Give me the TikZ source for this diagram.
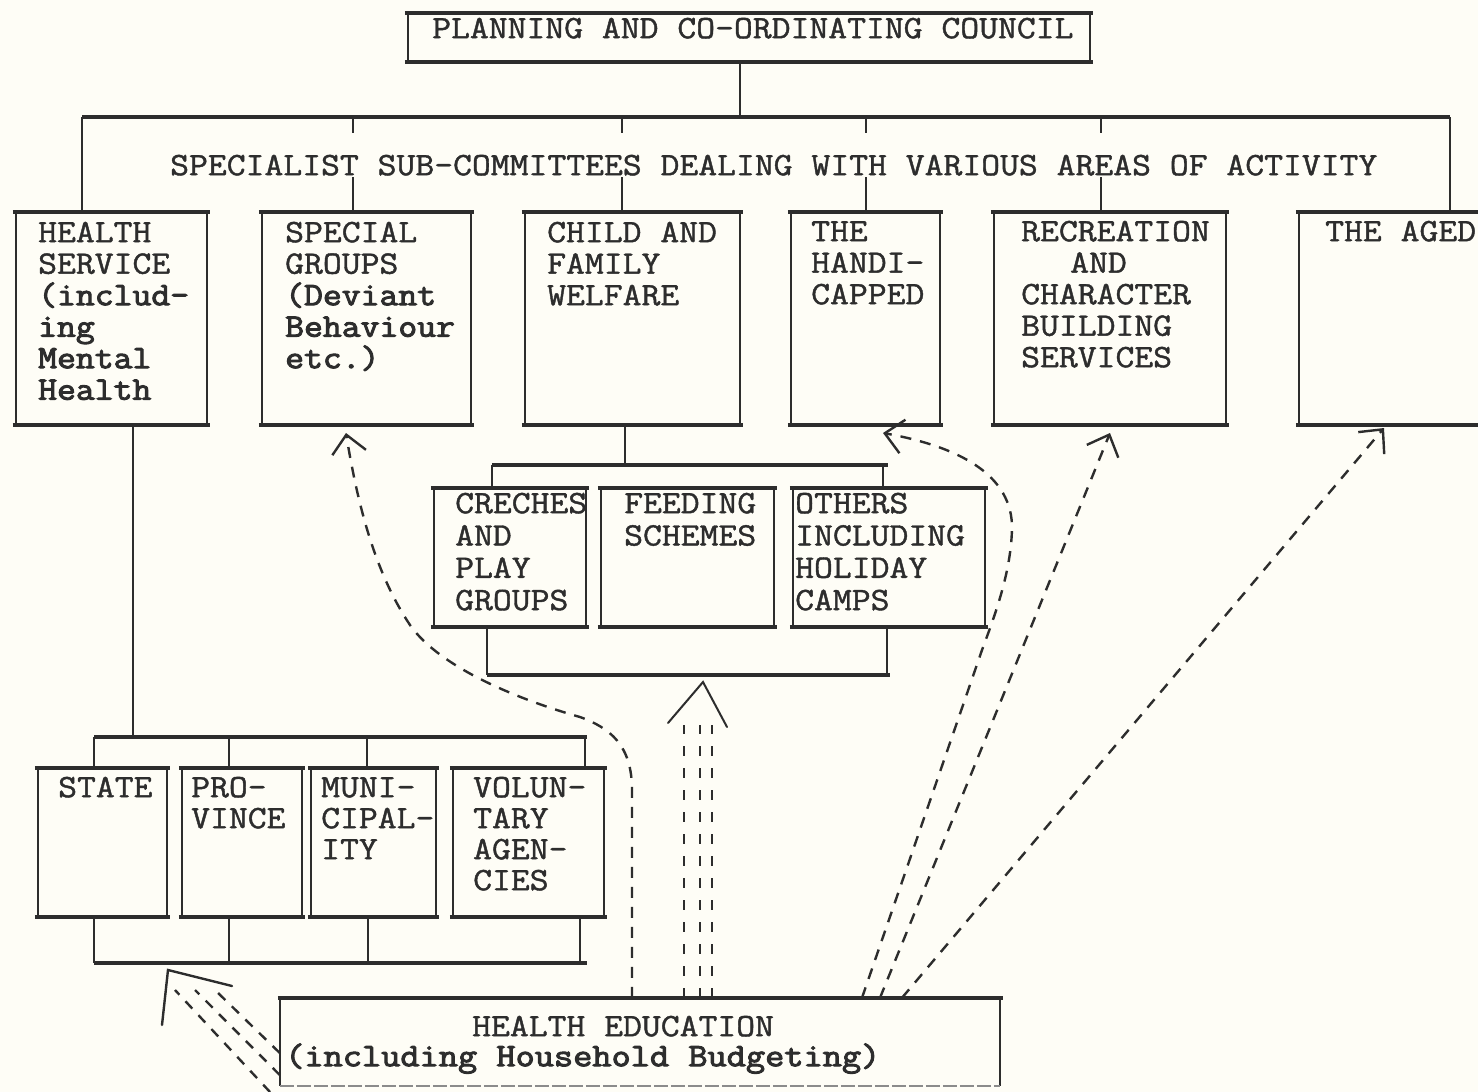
\documentclass[tikz,border=0pt]{standalone}
\usepackage{fontspec}
\newfontfamily\twfont[FakeStretch=1.12, AutoFakeBold=1.3]{Latin Modern Mono}
\newfontfamily\twbold[FakeStretch=1.12, AutoFakeBold=3]{Latin Modern Mono}
\newfontfamily\twheb[FakeStretch=1.14, AutoFakeBold=3]{Latin Modern Mono}
\usetikzlibrary{arrows.meta}
\definecolor{ink}{RGB}{45,45,45}
\definecolor{paper}{RGB}{254,253,246}
\newcommand\fl{\rule{0pt}{26pt}}
\newcommand\lc[1]{{\twbold\bfseries #1}}
\newcommand\mkbox[5]{%
  \node[frame, minimum width={#4-#2}, minimum height={#5-#3}] (#1) at ({(#2+#4)/2},{(#3+#5)/2}) {};%
  \draw[side] (#1.north west) -- (#1.south west) (#1.north east) -- (#1.south east);%
  \draw[edge] ([xshift=-3pt]#1.north west) -- ([xshift=3pt]#1.north east)
              ([xshift=-3pt]#1.south west) -- ([xshift=3pt]#1.south east);}
\tikzset{
  frame/.style={rectangle, inner sep=0pt, draw=none},
  edge/.style={ink, line width=3.6pt},
  side/.style={ink, line width=2pt},
  bar/.style={ink, line width=3.6pt},
  conn/.style={ink, line width=2pt},
  dsh/.style={ink, line width=2.4pt, dash pattern=on 11pt off 9pt},
  tip/.style={-{Straight Barb[length=18pt,width=34pt]}},
  barb/.style={ink, line width=2.4pt, line cap=round},
  txt/.style={anchor=north west, inner sep=0pt, align=left, text=ink},
  fA/.style={font=\fontsize{32.7}{31.5}\selectfont\twfont\bfseries},
  fS/.style={font=\fontsize{32.7}{32.3}\selectfont\twfont\bfseries},
  fT/.style={font=\fontsize{32.7}{31}\selectfont\twfont\bfseries},
  fH/.style={font=\fontsize{32.7}{30}\selectfont\twfont\bfseries},
}
\begin{document}
\begin{tikzpicture}[x=1pt,y=-1pt]
\fill[paper] (0,0) rectangle (1478,1092);
\useasboundingbox (0,0) rectangle (1478,1092);

% ---------- boxes ----------
\mkbox{C}{408}{13}{1090}{62}
\mkbox{hs}{16}{212}{207}{425}
\mkbox{sg}{262}{212}{471}{425}
\mkbox{cf}{525}{212}{740}{425}
\mkbox{hc}{791}{212}{940}{425}
\mkbox{rc}{994}{212}{1226}{425}
\mkbox{ag}{1299}{212}{1530}{425}
\mkbox{cr}{434}{488}{586}{627}
\mkbox{fd}{601}{488}{774}{627}
\mkbox{ot}{793}{488}{985}{627}
\mkbox{st}{38}{768}{167}{917}
\mkbox{pv}{182}{768}{302}{917}
\mkbox{mu}{311}{768}{436}{917}
\mkbox{vo}{453}{768}{604}{917}
\node[frame, minimum width=720, minimum height=88] (he) at (640,1042) {};
\draw[side] (he.north west) -- (he.south west) (he.north east) -- (he.south east);
\draw[edge] ([xshift=-2pt]he.north west) -- ([xshift=3pt]he.north east);
\draw[ink!55, line width=1.6pt, dash pattern=on 14pt off 3pt] (he.south west) -- (he.south east);

% ---------- texts ----------
\node[txt,fA] (Ct) at (432,12) {\fl PLANNING AND CO-ORDINATING COUNCIL};
\node[txt,fA] (sub) at (170,149) {\fl SPECIALIST SUB-COMMITTEES DEALING WITH VARIOUS AREAS OF ACTIVITY};
\node[txt,fA] (hsT) at (38,216) {\fl HEALTH\\SERVICE\\\lc{(includ-}\\\lc{ing}\\\lc{Mental}\\\lc{Health}};
\node[txt,fA] (sgT) at (285,216) {\fl SPECIAL\\GROUPS\\\lc{(Deviant}\\\lc{Behaviour}\\\lc{etc.)}};
\node[txt,fA] (cfT) at (547,216) {\fl CHILD AND\\FAMILY\\WELFARE};
\node[txt,fA] (hcT) at (811,215) {\fl THE\\HANDI-\\CAPPED};
\node[txt,fA] (rcT) at (1021,215) {\fl RECREATION\\\hspace*{49pt}AND\\CHARACTER\\BUILDING\\SERVICES};
\node[txt,fA] (agT) at (1325,215) {\fl THE AGED};
\node[txt,fS] (crT) at (455,487) {\fl CRECHES\\AND\\PLAY\\GROUPS};
\node[txt,fS] (fdT) at (624,487) {\fl FEEDING\\SCHEMES};
\node[txt,fS] (otT) at (795,487) {\fl OTHERS\\INCLUDING\\HOLIDAY\\CAMPS};
\node[txt,fT] (stT) at (58,771) {\fl STATE};
\node[txt,fT] (pvT) at (191,771) {\fl PRO-\\VINCE};
\node[txt,fT] (muT) at (321,771) {\fl MUNI-\\CIPAL-\\ITY};
\node[txt,fT] (voT) at (473,771) {\fl VOLUN-\\TARY\\AGEN-\\CIES};
\node[txt,fH] (heT) at (285,1010) {\fl\hspace*{187pt}HEALTH EDUCATION\\{\twheb\bfseries (including Household Budgeting)}};

% ---------- solid connectors ----------
\coordinate (bL) at (82,117);  \coordinate (bR) at (1450,117);
\coordinate (b0) at (740,117);
\draw[bar] (bL) -- (bR);
\draw[conn] (C.south -| b0) -- (b0);
\draw[conn] (bL) -- (hs.north -| bL);
\draw[conn] (bR) -- (ag.north -| bR);
\foreach \x/\n in {353/sg,622/cf,866/hc,1101/rc}{
  \draw[conn] (\x,117) -- (\x,133);
  \draw[conn] (\x,177) -- (\n.north -| {(\x,0)});
}
% health -> state group
\coordinate (sbL) at (94,737); \coordinate (sbR) at (587,737);
\draw[conn] (hs.south -| {(133,0)}) -- (133,737);
\draw[bar] (sbL) -- (sbR);
\draw[conn] (94,737) -- (st.north -| {(94,0)});
\draw[conn] (229,737) -- (pv.north -| {(229,0)});
\draw[conn] (367,737) -- (mu.north -| {(367,0)});
\draw[conn] (585,737) -- (vo.north -| {(585,0)});
\coordinate (lbL) at (94,963); \coordinate (lbR) at (587,963);
\draw[bar] (lbL) -- (lbR);
\draw[conn] (st.south -| {(94,0)}) -- (94,963);
\draw[conn] (pv.south -| {(229,0)}) -- (229,963);
\draw[conn] (mu.south -| {(368,0)}) -- (368,963);
\draw[conn] (vo.south -| {(580,0)}) -- (580,963);
% child -> sub group
\draw[conn] (cf.south -| {(625,0)}) -- (625,465);
\draw[bar] (492,465) -- (888,465);
\draw[conn] (492,465) -- (cr.north -| {(492,0)});
\draw[conn] (883,465) -- (ot.north -| {(883,0)});
\coordinate (cbL) at (487,675); \coordinate (cbR) at (890,675);
\draw[bar] (cbL) -- (cbR);
\draw[conn] (cr.south -| {(487,0)}) -- (487,675);
\draw[conn] (ot.south -| {(887,0)}) -- (887,675);

% ---------- dashed connectors from health education ----------
\draw[dsh,tip] (he.north -| {(632,0)}) -- (632,790)
  .. controls (632,745) and (610,728) .. (580,717)
  .. controls (520,700) and (440,668) .. (410,625)
  .. controls (380,580) and (360,520) .. (346,433);
\draw[dsh,tip] (he.north -| {(862,0)}) -- (982,650)
  .. controls (995,615) and (1012,570) .. (1012,525)
  .. controls (1010,470) and (950,445) .. (883,433);
\draw[dsh,tip] (he.north -| {(880,0)}) -- (1110,433);
\draw[dsh,tip] (he.north -| {(902,0)}) -- (1384,428);
% big arrow up to the sub group
\foreach \x in {684,700,712}{\draw[dsh, dash pattern=on 10pt off 12pt] (he.north -| {(\x,0)}) -- (\x,725);}
\draw[barb, line width=2pt] (668,723) -- (703,682) -- (727,727);
% arrow to the state group
\draw[dsh, dash pattern=on 10pt off 9pt] (270,1092) -- (175,990);
\draw[dsh, dash pattern=on 10pt off 9pt] (he.west |- {(0,1075)}) -- (195,990);
\draw[dsh, dash pattern=on 10pt off 9pt] (he.west |- {(0,1053)}) -- (215,990);
\draw[barb] (162,1025) -- (168,970) -- (232,986);
\end{tikzpicture}
\end{document}
